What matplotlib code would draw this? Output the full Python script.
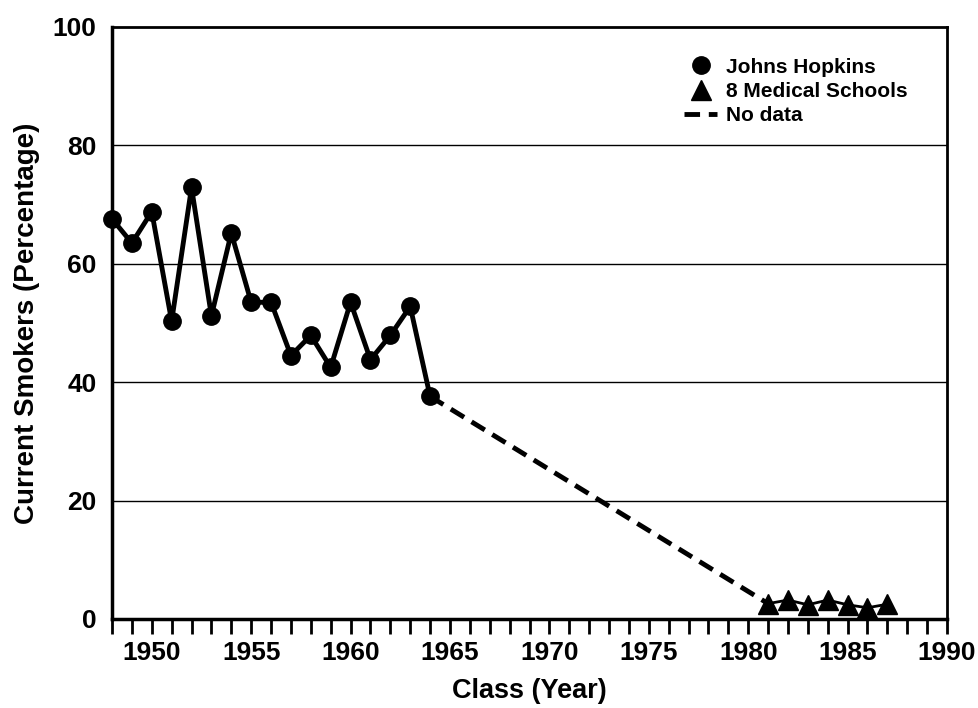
import matplotlib
matplotlib.use("Agg")
import matplotlib.pyplot as plt
from matplotlib.lines import Line2D

plt.rcParams['font.family'] = ['Liberation Sans', 'DejaVu Sans']
plt.rcParams['font.weight'] = 'bold'

jh_years = [1948, 1949, 1950, 1951, 1952, 1953, 1954, 1955, 1956, 1957,
            1958, 1959, 1960, 1961, 1962, 1963, 1964]
jh_values = [67.6, 63.5, 68.8, 50.3, 72.9, 51.2, 65.2, 53.5, 53.5, 44.5,
             47.9, 42.5, 53.5, 43.8, 47.9, 52.8, 37.6]
ms_years = [1981, 1982, 1983, 1984, 1985, 1986, 1987]
ms_values = [2.6, 3.2, 2.4, 3.2, 2.4, 1.9, 2.5]
gap_years = [1964, 1981]
gap_values = [37.6, 2.6]

fig = plt.figure(figsize=(9.79, 7.08), dpi=100)
ax = fig.add_axes([112/979, 1-619/708, (947-112)/979, (619-27)/708])

for y in [20, 40, 60, 80]:
    ax.axhline(y, color='black', lw=1.0, zorder=0)

ax.plot(gap_years, gap_values, color='black', lw=3.5, dashes=(3.2, 1.8), zorder=2)
ax.plot(jh_years, jh_values, color='black', lw=3.5, marker='o', ms=12.5, zorder=3,
        clip_on=False)
ax.plot(ms_years, ms_values, color='black', lw=2, marker='^', ms=15, zorder=3,
        clip_on=False)

ax.set_xlim(1948, 1990)
ax.set_ylim(0, 100)
ax.set_xticks(range(1950, 1991, 5))
ax.set_xticks(range(1948, 1991), minor=True)
ax.set_yticks([0, 20, 40, 60, 80, 100])
ax.tick_params(axis='x', which='both', direction='out', length=11, width=2, labelsize=19, pad=5)
ax.tick_params(axis='y', which='both', length=0, labelsize=19, pad=11)
for lab in ax.get_xticklabels() + ax.get_yticklabels():
    lab.set_fontweight('bold')

for s in ['left', 'bottom']:
    ax.spines[s].set_linewidth(2.5)
for s in ['top', 'right']:
    ax.spines[s].set_linewidth(2)

ax.set_xlabel('Class (Year)', fontsize=19.5, fontweight='bold', labelpad=9)
ax.set_ylabel('Current Smokers (Percentage)', fontsize=20, fontweight='bold', labelpad=9)

handles = [
    Line2D([], [], color='black', marker='o', ls='none', ms=12.5),
    Line2D([], [], color='black', marker='^', ls='none', ms=15),
    Line2D([], [], color='black', lw=3.5, dashes=(3.2, 1.8)),
]
leg = ax.legend(handles, ['Johns Hopkins', '8 Medical Schools', 'No data'],
                loc='upper right', frameon=False,
                prop={'weight': 'bold', 'size': 15},
                handlelength=1.6, handletextpad=0.4, labelspacing=0.25,
                bbox_to_anchor=(0.975, 0.98))

fig.savefig('out.png', dpi=100)
